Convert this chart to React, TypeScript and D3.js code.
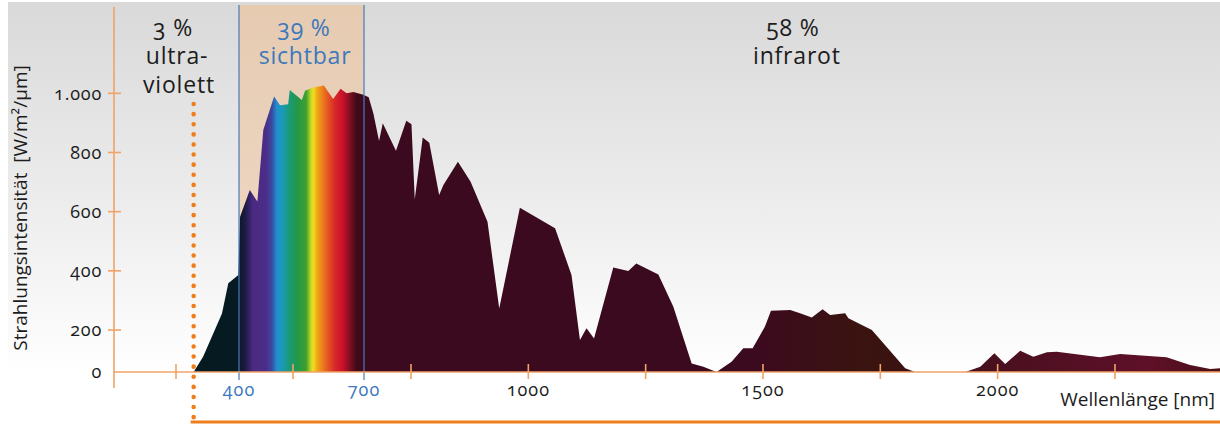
import React from "react";
import * as d3 from "d3";

// ---- data (wavelength in nm, intensity in W/m²/µm) ----
const wavelengths = [328,343,373,383,399,402,420,434,445,465,476,491,494,525,534,557,587,613,634,651,670,698,705,710,716,720,734,745,751,758,775,789,810,819,850,877,913,938,982,1057,1092,1110,1124,1140,1181,1213,1230,1277,1309,1348,1373,1401,1433,1458,1478,1504,1517,1558,1579,1604,1627,1643,1675,1682,1732,1803,1824,1931,1963,1993,2016,2048,2076,2105,2126,2218,2261,2360,2410,2453,2474];
const intensities = [0,73,256,358,386,583,673,634,876,989,960,963,1011,977,1009,1020,1026,981,1015,1000,1004,995,987,932,839,899,806,907,895,642,851,833,656,690,769,701,566,273,613,544,386,152,206,160,411,399,425,388,279,41,25,0,49,113,113,211,265,268,257,242,270,251,257,240,200,18,0,0,25,89,38,101,73,94,97,70,86,70,33,14,18];

const yTickValues = [0, 200, 400, 600, 800, 1000];
const xLabelTicks = [1000, 1500, 2000];
const xVisibleBounds = [400, 700];
const xMinorTicks = [300, 500, 750, 1250, 1750, 2250];
const uvBoundary = 328;

const bandTexts = [
  { nm: 300, lines: ["3 %", "ultra-", "violett"], dx: [-3, 1, 3], color: "#1c1c1c" },
  { nm: 531, lines: ["39 %", "sichtbar"], dx: [0, 1], color: "#3b78bd" },
  { nm: 1568, lines: ["58 %", "infrarot"], dx: [-2, 2], color: "#1c1c1c" },
];

// colour along the spectrum (nm, colour)
const spectrumStops: [number, string][] = [
  [328, "#061a22"], [399, "#061a22"], [411, "#1c1a42"], [426, "#4a2a82"],
  [450, "#4b2d88"], [461, "#3a4aa0"], [470, "#1f8fcf"], [481, "#1a9ab6"],
  [489, "#1a9a88"], [511, "#20984a"], [537, "#3ea02e"], [551, "#c8d828"],
  [557, "#f0e020"], [568, "#f0a818"], [591, "#e86820"], [618, "#d82828"],
  [641, "#c8102c"], [660, "#801020"], [680, "#3e0a1a"], [700, "#3c0a1e"],
  [1494, "#3c0a1e"], [1707, "#3a1410"], [1835, "#3a1212"], [2005, "#4a1020"],
  [2325, "#5e1028"], [2474, "#4a1018"],
];

const W = 1220;
const H = 425;
const ORANGE = "#ee7d1a";
const AXIS = "#f1a266";
const BLUE = "#4a78b8";
const FONT = "'Open Sans', 'Noto Sans', sans-serif";

const x = d3.scaleLinear().domain([300, 400, 500, 700, 750, 2500]).range([176, 239, 293, 364, 411, 1232.3]);
const y = d3.scaleLinear().domain([0, 200, 1000]).range([372, 330, 93.3]);

const deFormat = d3.formatLocale({ decimal: ",", thousands: ".", grouping: [3], currency: ["", " €"] }).format(",d");

export default function App() {
  const data = wavelengths.map((nm, i) => ({ nm, v: intensities[i] }));
  const area = d3.area<{ nm: number; v: number }>()
    .x((d) => x(d.nm))
    .y0(y(0))
    .y1((d) => y(d.v));

  const gx1 = x(wavelengths[0]);
  const gx2 = x(wavelengths[wavelengths.length - 1]);
  const x0 = 114;
  const xEnd = W;
  const onum: React.CSSProperties = { fontVariantNumeric: "oldstyle-nums", fontFeatureSettings: "'onum' 1" };

  return (
    <div style={{ position: "absolute", left: 0, top: 0 }}>
      <svg width={W} height={H} style={{ display: "block", fontFamily: FONT }}>
        <defs>
          <linearGradient id="bg" x1="0" y1="0" x2="0" y2="1">
            <stop offset="0%" stopColor="#d9d9d9" />
            <stop offset="55%" stopColor="#ededed" />
            <stop offset="100%" stopColor="#ffffff" />
          </linearGradient>
          <linearGradient id="band" x1="0" y1="0" x2="0" y2="1">
            <stop offset="0%" stopColor="#e6cbb1" />
            <stop offset="100%" stopColor="#f1dccb" />
          </linearGradient>
          <linearGradient id="spec" gradientUnits="userSpaceOnUse" x1={gx1} y1={0} x2={gx2} y2={0}>
            {spectrumStops.map(([nm, c], i) => (
              <stop key={i} offset={(x(nm) - gx1) / (gx2 - gx1)} stopColor={c} />
            ))}
          </linearGradient>
        </defs>

        <rect x={8} y={2} width={W - 8} height={y(0) + 3 - 2} fill="url(#bg)" />
        <rect x={x(xVisibleBounds[0])} y={5} width={x(xVisibleBounds[1]) - x(xVisibleBounds[0])} height={y(0) - 5} fill="url(#band)" />

        <path d={area(data) ?? ""} fill="url(#spec)" />

        {/* visible band borders */}
        {xVisibleBounds.map((nm) => (
          <line key={nm} x1={x(nm)} x2={x(nm)} y1={5} y2={380} stroke={BLUE} strokeWidth={1.2} />
        ))}

        {/* y axis */}
        <line x1={x0} x2={x0} y1={7} y2={388} stroke={AXIS} strokeWidth={1.6} />
        {yTickValues.filter((v) => v > 0).map((v) => (
          <line key={v} x1={x0 - 6} x2={x0 + 7} y1={y(v)} y2={y(v)} stroke={AXIS} strokeWidth={1.6} />
        ))}
        {yTickValues.map((v) => (
          <text key={v} x={102} y={y(v)} dy="0.35em" textAnchor="end" fontSize={18} fontWeight={500} fill="#1c1c1c" style={onum} letterSpacing={0.8}>
            {deFormat(v)}
          </text>
        ))}
        <text transform={`translate(27, ${208}) rotate(-90)`} textAnchor="middle" fontSize={19} fontWeight={500} fill="#1c1c1c">
          {"Strahlungsintensität\u00a0\u00a0[W/m²/µm]"}
        </text>

        {/* x axis */}
        <line x1={x0 - 1} x2={xEnd} y1={y(0)} y2={y(0)} stroke={AXIS} strokeWidth={1.6} />
        {[...xMinorTicks, ...xLabelTicks].map((nm) => (
          <line key={nm} x1={x(nm)} x2={x(nm)} y1={364} y2={379} stroke={AXIS} strokeWidth={1.6} />
        ))}
        {xVisibleBounds.map((nm) => (
          <text key={nm} x={x(nm)} y={396} textAnchor="middle" fontSize={18} fontWeight={500} fill="#3b78bd" style={onum} letterSpacing={1}>
            {nm}
          </text>
        ))}
        {xLabelTicks.map((nm) => (
          <text key={nm} x={x(nm)} y={396} textAnchor="middle" fontSize={18} fontWeight={500} fill="#1c1c1c" style={onum} letterSpacing={1}>
            {nm}
          </text>
        ))}
        <text x={1215} y={406} textAnchor="end" fontSize={19} fontWeight={500} fill="#1c1c1c">Wellenlänge [nm]</text>

        {/* UV boundary dotted line and bottom bar */}
        <line x1={x(uvBoundary)} x2={x(uvBoundary)} y1={104} y2={421} stroke={ORANGE} strokeWidth={4.5} strokeLinecap="round" strokeDasharray="0.1 10" />
        <line x1={x(uvBoundary) - 3} x2={W} y1={422} y2={422} stroke={ORANGE} strokeWidth={3} />

        {/* band labels */}
        {bandTexts.map((b) => (
          <g key={b.nm}>
            {b.lines.map((t, i) => (
              <text key={i} x={x(b.nm) + b.dx[i]} y={36 + i * 28.3} textAnchor="middle" fontSize={23} fontWeight={500} fill={b.color} style={onum} letterSpacing={0.8}>
                {t}
              </text>
            ))}
          </g>
        ))}
      </svg>
    </div>
  );
}
